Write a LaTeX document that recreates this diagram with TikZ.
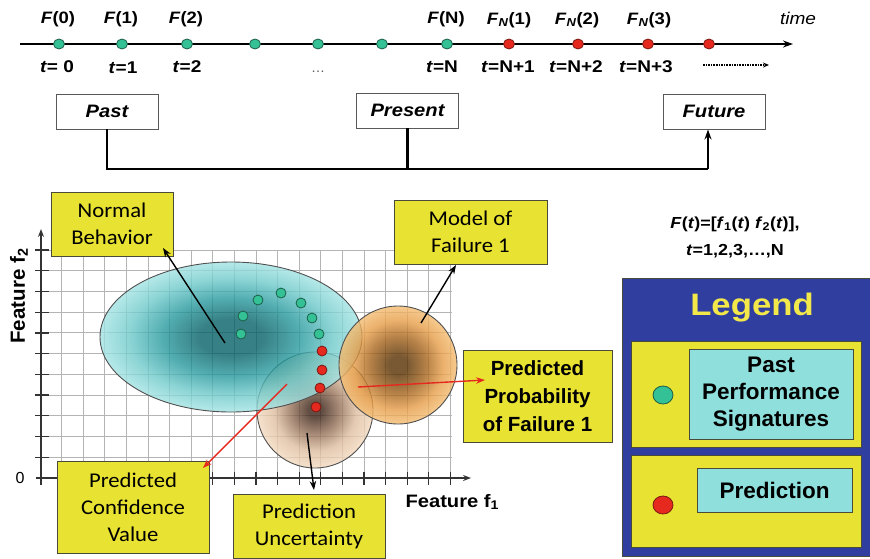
\documentclass[tikz,border=0pt]{standalone}
\usepackage{fontspec}
\setmainfont{Liberation Sans}
\newfontfamily\calfont[FakeStretch=1.08]{Carlito}
\newfontfamily\widefont[FakeStretch=1.12]{Liberation Sans}
\usetikzlibrary{arrows.meta,calc,shapes.geometric}

\definecolor{boxyellow}{HTML}{E8E232}
\definecolor{boxedge}{HTML}{4A4A3A}
\definecolor{legendblue}{HTML}{2F3E9F}
\definecolor{legendtext}{HTML}{F2E84A}
\definecolor{cyanbox}{HTML}{8FE0DC}
\definecolor{pastgreen}{HTML}{34C196}
\definecolor{greenedge}{HTML}{1D5E48}
\definecolor{predred}{HTML}{E5291F}
\definecolor{rededge}{HTML}{7A1A12}
\definecolor{gridgray}{HTML}{B4B4B4}
\definecolor{axisgray}{HTML}{333333}
\definecolor{shapeedge}{HTML}{505050}
% normal behaviour cloud
\definecolor{nbA}{HTML}{056066}
\definecolor{nbB}{HTML}{27999D}
\definecolor{nbC}{HTML}{70CACB}
\definecolor{nbD}{HTML}{A4E3E3}
% failure model
\definecolor{fmA}{HTML}{583000}
\definecolor{fmB}{HTML}{A4621A}
\definecolor{fmC}{HTML}{E69D48}
\definecolor{fmD}{HTML}{F4BD72}
% prediction uncertainty
\definecolor{puA}{HTML}{3A2114}
\definecolor{puB}{HTML}{8E6A52}
\definecolor{puC}{HTML}{DDBC9E}
\definecolor{puD}{HTML}{F3DAC0}

% radial shadings: 25bp is the rim of the shaded path
\pgfdeclareradialshading{normalglow}{\pgfpoint{0bp}{0bp}}{color(0bp)=(nbA); color(6bp)=(nbA); color(13bp)=(nbB); color(19.5bp)=(nbC); color(25bp)=(nbD); color(50bp)=(nbD)}
\pgfdeclareradialshading{failglow}{\pgfpoint{0bp}{0bp}}{color(0bp)=(fmA); color(4bp)=(fmA); color(12bp)=(fmB); color(19bp)=(fmC); color(25bp)=(fmD); color(50bp)=(fmD)}
\pgfdeclareradialshading{uncglow}{\pgfpoint{0bp}{0bp}}{color(0bp)=(puA); color(3bp)=(puA); color(10bp)=(puB); color(17.5bp)=(puC); color(25bp)=(puD); color(50bp)=(puD)}

\begin{document}
\begin{tikzpicture}[x=1pt,y=-1pt,
  ybox/.style={draw=boxedge, fill=boxyellow, line width=0.9pt, inner sep=0pt, align=center,
    font=\calfont\fontsize{21}{27}\selectfont},
  ybold/.style={ybox, font=\bfseries\fontsize{20.5}{28}\selectfont},
  tbox/.style={draw=gray!70!black, fill=white, line width=0.8pt, minimum width=102pt,
    minimum height=35pt, inner sep=0pt, font=\widefont\bfseries\itshape\fontsize{18}{20}\selectfont},
  flab/.style={font=\widefont\bfseries\fontsize{16.5}{19}\selectfont},
  tlab/.style={font=\widefont\bfseries\fontsize{17}{19}\selectfont},
  gdot/.style={circle, draw=greenedge, fill=pastgreen, line width=0.8pt, minimum size=10pt, inner sep=0pt},
  rdot/.style={circle, draw=rededge, fill=predred, line width=0.8pt, minimum size=10pt, inner sep=0pt},
  tdot/.style={ellipse, minimum width=11pt, minimum height=10pt},
  arr/.style={line width=1.4pt, -{Stealth[length=9pt,width=6.5pt]}},
  redarr/.style={arr, draw=predred, -{Stealth[length=9pt,width=6.5pt,fill=predred]}},
  gridline/.style={draw=gridgray, line width=0.8pt},
  axisline/.style={draw=axisgray, line width=1.3pt},
  busline/.style={line width=2.2pt},
  cloud/.style={draw=shapeedge, line width=0.9pt, fill opacity=0.8}
]
\useasboundingbox (0,0) rectangle (870,558);

% ---------------- time line ----------------
\coordinate (tlA) at (20,44);
\coordinate (tlB) at (793,44);
\draw[line width=1.4pt, -{Stealth[length=10pt,width=7pt]}] (tlA) -- (tlB);
\foreach \x [count=\i] in {59,122,187,255,318,382,447}
  \node[gdot, tdot] (tg\i) at (\x,44) {};
\foreach \x [count=\i] in {509,578,648,709}
  \node[rdot, tdot] (tr\i) at (\x,44) {};

\node[flab] (F0) at (58,19) {\textit{F}(0)};
\node[flab] (F1) at (121,19) {\textit{F}(1)};
\node[flab] (F2) at (186,19) {\textit{F}(2)};
\node[flab] (FN) at (446,19) {\textit{F}(N)};
\node[flab] (FN1) at (509,20) {\textit{F}\textsubscript{\textit{N}}(1)};
\node[flab] (FN2) at (577,20) {\textit{F}\textsubscript{\textit{N}}(2)};
\node[flab] (FN3) at (649,20) {\textit{F}\textsubscript{\textit{N}}(3)};
\node[font=\widefont\itshape\fontsize{17}{19}\selectfont] (time) at (798,18) {time};

\node[tlab] (t0) at (57,67) {\textit{t}= 0};
\node[tlab] (t1) at (123,68) {\textit{t}=1};
\node[tlab] (t2) at (187,67) {\textit{t}=2};
\node[font=\fontsize{14}{16}\selectfont, text=gray!70!black] (tdots) at (318,72) {\dots};
\node[tlab] (tN) at (442,67) {\textit{t}=N};
\node[tlab] (tN1) at (508,67) {\textit{t}=N+1};
\node[tlab] (tN2) at (576,67) {\textit{t}=N+2};
\node[tlab] (tN3) at (646,67) {\textit{t}=N+3};
\coordinate (dotA) at (703,65);
\coordinate (dotB) at (769,65);
\draw[line width=1.6pt, densely dotted, -{Stealth[length=6pt,width=5pt]}] (dotA) -- (dotB);

% ---------------- past / present / future ----------------
\node[tbox] (past) at (107,111.5) {Past};
\node[tbox] (present) at (407.5,110.5) {Present};
\node[tbox] (future) at (714,111.5) {Future};
\coordinate (busR) at (708,169);
\coordinate (futin) at (708,129.5);
\draw[busline] (past.south) |- (busR);
\draw[busline] (present.south) -- (present.south |- busR);
\draw[busline, -{Stealth[length=10pt,width=7pt]}] (busR) -- (futin);

% ---------------- feature space ----------------
\foreach \k in {1,...,19}
  \draw[gridline] ({40+21.6*\k},250) -- ({40+21.6*\k},478);
\foreach \k in {1,...,11}
  \draw[gridline] (41,{478-20.73*\k}) -- (452,{478-20.73*\k});
\foreach \k in {1,...,11}
  \draw[axisline] (35,{478-20.73*\k}) -- (49,{478-20.73*\k});
\foreach \k in {1,...,19}
  \draw[axisline] ({40+21.6*\k},472) -- ({40+21.6*\k},485);
\draw[axisline, -{Stealth[length=8pt,width=6pt]}] (36,478) -- (471,478);
\draw[axisline, -{Stealth[length=8pt,width=6pt]}] (41,485) -- (41,229);
\node[font=\fontsize{16}{18}\selectfont] (zero) at (20,478) {0};
\node[font=\widefont\bfseries\fontsize{18}{20}\selectfont, anchor=west] (f1lab) at (402,502) {Feature f\textsubscript{1}};
\node[font=\bfseries\fontsize{20.5}{22}\selectfont, rotate=90] (f2lab) at (19,296) {Feature f\textsubscript{2}};

% probability clouds
\shadedraw[cloud, shading=uncglow] (315,410) circle [radius=58];
\shadedraw[cloud, shading=normalglow] (231,337) ellipse [x radius=131, y radius=75];
\shadedraw[cloud, shading=failglow] (398,365) circle [radius=59];

% feature trajectory
\foreach \x/\y [count=\i] in {241/334,243/316,258/300,281/293,301/303,312/318,319/334}
  \node[gdot] (pg\i) at (\x,\y) {};
\foreach \x/\y [count=\i] in {322/351,322/370,320/388,316/407}
  \node[rdot] (pr\i) at (\x,\y) {};

% annotation boxes
\node[ybox, minimum width=122pt, minimum height=64pt] (normal) at (112,224) {Normal\\Behavior};
\node[ybox, minimum width=153pt, minimum height=64pt] (model) at (470.5,232) {Model of\\Failure 1};
\node[ybold, minimum width=149pt, minimum height=92pt] (prob) at (537.5,396) {Predicted\\Probability\\of Failure 1};
\node[ybox, minimum width=152pt, minimum height=92pt] (conf) at (133,507) {Predicted\\Confidence\\Value};
\node[ybox, minimum width=152pt, minimum height=64pt] (unc) at (309,526) {Prediction\\Uncertainty};

% connectors from regions to their labels
\coordinate (nbpt) at (225,343);
\coordinate (nbtip) at (163,248);
\coordinate (fmpt) at (421,323);
\coordinate (fmtip) at (456,265);
\coordinate (pppt) at (358,387);
\coordinate (pptip) at (485,380);
\coordinate (cvpt) at (287,384);
\coordinate (cvtip) at (203,468);
\coordinate (pupt) at (307,433);
\coordinate (putip) at (314,490);
\draw[arr] (nbpt) -- (nbtip);
\draw[arr] (fmpt) -- (fmtip);
\draw[redarr] (pppt) -- (pptip);
\draw[redarr] (cvpt) -- (cvtip);
\draw[arr] (pupt) -- (putip);

% ---------------- definition and legend ----------------
\node[font=\widefont\bfseries\fontsize{16}{27}\selectfont, align=center] (def) at (735,237)
  {\textit{F}(\textit{t})=[\textit{f}\textsubscript{1}(\textit{t}) \textit{f}\textsubscript{2}(\textit{t})],\\
   \textit{t}=1,2,3,\dots,N};

\node[draw=boxedge, fill=legendblue, line width=0.8pt, minimum width=248pt, minimum height=278pt,
  inner sep=0pt] (legend) at (746,417) {};
\node[font=\widefont\bfseries\fontsize{31}{34}\selectfont, text=legendtext] (legtitle) at (752,308) {Legend};
\node[draw=boxedge, fill=boxyellow, line width=0.8pt, minimum width=230pt, minimum height=106pt,
  inner sep=0pt] (legA) at (746,394) {};
\node[draw=boxedge, fill=cyanbox, line width=0.8pt, minimum width=164pt, minimum height=90pt,
  inner sep=0pt, align=center, font=\bfseries\fontsize{22.5}{27}\selectfont] (legAtxt) at (771,394)
  {Past\\Performance\\Signatures};
\node[gdot, ellipse, minimum width=20pt, minimum height=18pt] (legAdot) at (663,395) {};
\node[draw=boxedge, fill=boxyellow, line width=0.8pt, minimum width=230pt, minimum height=92pt,
  inner sep=0pt] (legB) at (746,501) {};
\node[draw=boxedge, fill=cyanbox, line width=0.8pt, minimum width=155pt, minimum height=44pt,
  inner sep=0pt, font=\bfseries\fontsize{22.5}{27}\selectfont] (legBtxt) at (774.5,490) {Prediction};
\node[rdot, ellipse, minimum width=20pt, minimum height=18pt] (legBdot) at (663,505) {};
\end{tikzpicture}
\end{document}
